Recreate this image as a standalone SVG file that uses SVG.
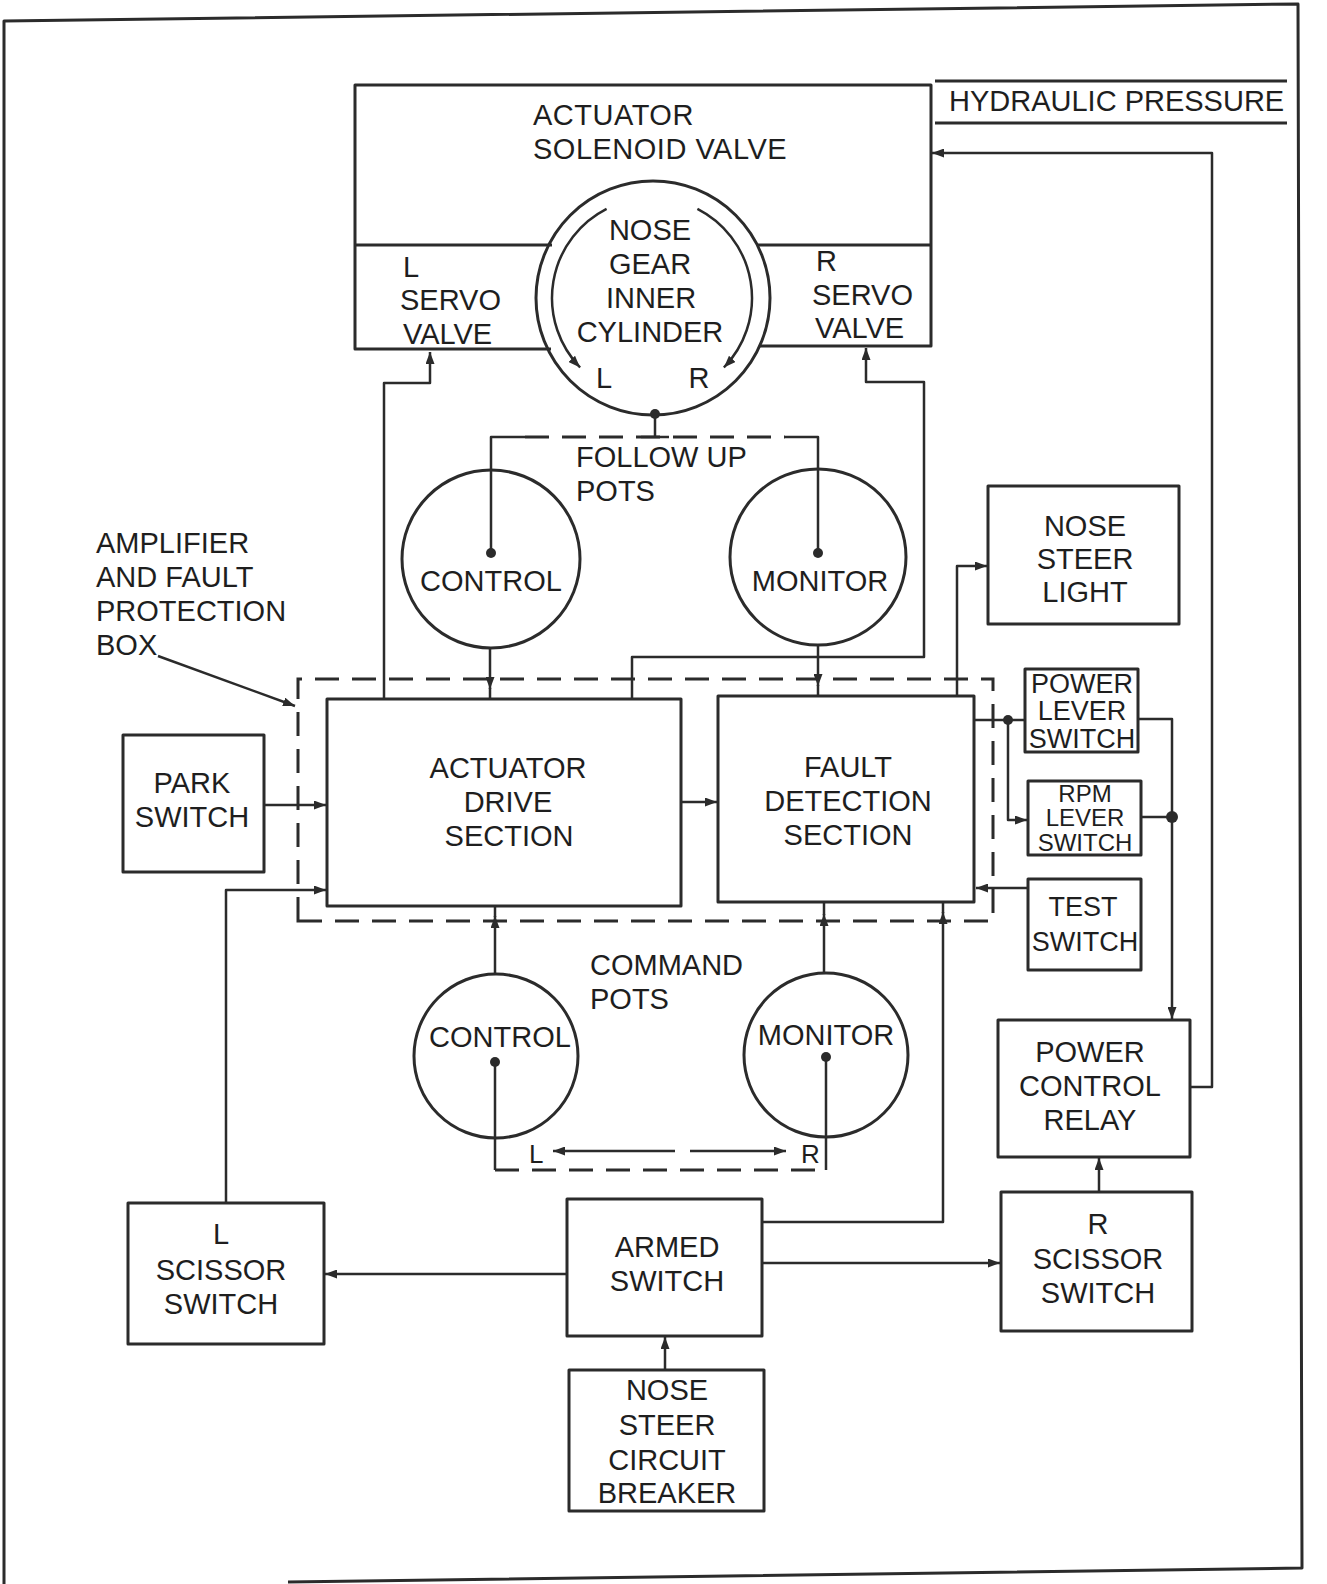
<svg xmlns="http://www.w3.org/2000/svg" width="1327" height="1584" viewBox="0 0 1327 1584">
<defs>
<style>
.box{fill:none;stroke:#2b2b2b;stroke-width:3;stroke-linejoin:round}
.w{fill:none;stroke:#2b2b2b;stroke-width:2.5;stroke-linejoin:round}
.d{fill:none;stroke:#2b2b2b;stroke-width:3;stroke-dasharray:24 13}
.a{marker-end:url(#ah)}
.t{font-family:"Liberation Sans",Arial,sans-serif;font-size:29px;fill:#1e1e1e;text-anchor:middle}
.s{text-anchor:start}
.sm{font-size:27px}
.xs{font-size:24px}
.lr{font-size:26px}
.dot{fill:#2b2b2b}
</style>
<marker id="ah" viewBox="0 0 12 9" refX="12" refY="4.5" markerWidth="12" markerHeight="9" markerUnits="userSpaceOnUse" orient="auto">
<path d="M0,0 L12,4.5 L0,9 z" fill="#2b2b2b"/>
</marker>
</defs>
<rect width="1327" height="1584" fill="#fff"/>
<path id="frame" class="box" d="M4,1584 L4,21 L1298,4 L1302,1568 L288,1582"/>

<g id="hydraulic-pressure">
<path class="box" d="M935,81 H1287 M935,123 H1287"/>
<text class="t s" x="949" y="111">HYDRAULIC PRESSURE</text>
</g>

<g id="actuator-solenoid-valve">
<path class="box" d="M355,245 V85 H931 V245 M355,245 H552 M758,245 H931"/>
<text class="t s" x="533" y="125" letter-spacing="0.5">ACTUATOR</text>
<text class="t s" x="533" y="159" letter-spacing="0.5">SOLENOID VALVE</text>
</g>

<g id="l-servo-valve">
<path class="box" d="M355,245 V349 H551"/>
<text class="t s" x="403" y="277">L</text>
<text class="t s" x="400" y="310">SERVO</text>
<text class="t s" x="403" y="344">VALVE</text>
</g>

<g id="r-servo-valve">
<path class="box" d="M931,245 V346 H759"/>
<text class="t s" x="816" y="271">R</text>
<text class="t s" x="812" y="305">SERVO</text>
<text class="t s" x="815" y="338">VALVE</text>
</g>

<g id="nose-gear-inner-cylinder">
<circle class="box" cx="653" cy="298" r="117"/>
<path class="w a" d="M606.6,208.9 A100,100 0 0,0 580.1,367.5"/>
<path class="w a" d="M697.4,208.9 A100,100 0 0,1 723.9,367.5"/>
<text class="t" x="650" y="240">NOSE</text>
<text class="t" x="650" y="274">GEAR</text>
<text class="t" x="651" y="308">INNER</text>
<text class="t" x="650" y="342">CYLINDER</text>
<text class="t" x="604" y="388">L</text>
<text class="t" x="699" y="388">R</text>
<circle class="dot" cx="655" cy="414" r="5"/>
</g>

<g id="follow-up-pots">
<text class="t s" x="576" y="467">FOLLOW UP</text>
<text class="t s" x="576" y="501">POTS</text>
</g>

<g id="follow-up-control">
<circle class="box" cx="491" cy="559" r="89"/>
<circle class="dot" cx="491" cy="553" r="5"/>
<text class="t" x="491" y="591">CONTROL</text>
</g>

<g id="follow-up-monitor">
<circle class="box" cx="818" cy="557" r="88"/>
<circle class="dot" cx="818" cy="553" r="5"/>
<text class="t" x="820" y="591">MONITOR</text>
</g>

<g id="amplifier-fault-protection-box">
<path class="d" d="M298,921 V679 H993 V921 Z"/>
<text class="t s" x="96" y="553">AMPLIFIER</text>
<text class="t s" x="96" y="587">AND FAULT</text>
<text class="t s" x="96" y="621">PROTECTION</text>
<text class="t s" x="96" y="655">BOX</text>
</g>

<g id="actuator-drive-section">
<rect class="box" x="327" y="699" width="354" height="207"/>
<text class="t" x="508" y="778">ACTUATOR</text>
<text class="t" x="508" y="812">DRIVE</text>
<text class="t" x="509" y="846">SECTION</text>
</g>

<g id="fault-detection-section">
<rect class="box" x="718" y="696" width="256" height="206"/>
<text class="t" x="848" y="777">FAULT</text>
<text class="t" x="848" y="811">DETECTION</text>
<text class="t" x="848" y="845">SECTION</text>
</g>

<g id="park-switch">
<rect class="box" x="123" y="735" width="141" height="137"/>
<text class="t" x="192" y="793">PARK</text>
<text class="t" x="192" y="827">SWITCH</text>
</g>

<g id="nose-steer-light">
<rect class="box" x="988" y="486" width="191" height="138"/>
<text class="t" x="1085" y="536">NOSE</text>
<text class="t" x="1085" y="569">STEER</text>
<text class="t" x="1085" y="602">LIGHT</text>
</g>

<g id="power-lever-switch">
<rect class="box" x="1025" y="669" width="113" height="83"/>
<text class="t sm" x="1082" y="693">POWER</text>
<text class="t sm" x="1082" y="720">LEVER</text>
<text class="t sm" x="1082" y="748">SWITCH</text>
</g>

<g id="rpm-lever-switch">
<rect class="box" x="1028" y="781" width="113" height="74"/>
<text class="t xs" x="1085" y="802">RPM</text>
<text class="t xs" x="1085" y="826">LEVER</text>
<text class="t xs" x="1085" y="851">SWITCH</text>
</g>

<g id="test-switch">
<rect class="box" x="1028" y="879" width="113" height="91"/>
<text class="t sm" x="1083" y="916">TEST</text>
<text class="t sm" x="1085" y="951">SWITCH</text>
</g>

<g id="command-pots">
<text class="t s" x="590" y="975">COMMAND</text>
<text class="t s" x="590" y="1009">POTS</text>
<text class="t s lr" x="529" y="1163">L</text>
<text class="t s lr" x="801" y="1163">R</text>
</g>

<g id="command-control">
<circle class="box" cx="496" cy="1056" r="82"/>
<circle class="dot" cx="495" cy="1062" r="5"/>
<text class="t" x="500" y="1047">CONTROL</text>
</g>

<g id="command-monitor">
<circle class="box" cx="826" cy="1055" r="82"/>
<circle class="dot" cx="826" cy="1057" r="5"/>
<text class="t" x="826" y="1045">MONITOR</text>
</g>

<g id="power-control-relay">
<rect class="box" x="998" y="1020" width="192" height="137"/>
<text class="t" x="1090" y="1062">POWER</text>
<text class="t" x="1090" y="1096">CONTROL</text>
<text class="t" x="1090" y="1130">RELAY</text>
</g>

<g id="l-scissor-switch">
<rect class="box" x="128" y="1203" width="196" height="141"/>
<text class="t" x="221" y="1244">L</text>
<text class="t" x="221" y="1280">SCISSOR</text>
<text class="t" x="221" y="1314">SWITCH</text>
</g>

<g id="armed-switch">
<rect class="box" x="567" y="1199" width="195" height="137"/>
<text class="t" x="667" y="1257">ARMED</text>
<text class="t" x="667" y="1291">SWITCH</text>
</g>

<g id="r-scissor-switch">
<rect class="box" x="1001" y="1192" width="191" height="139"/>
<text class="t" x="1098" y="1234">R</text>
<text class="t" x="1098" y="1269">SCISSOR</text>
<text class="t" x="1098" y="1303">SWITCH</text>
</g>

<g id="nose-steer-circuit-breaker">
<rect class="box" x="569" y="1370" width="195" height="141"/>
<text class="t" x="667" y="1400">NOSE</text>
<text class="t" x="667" y="1435">STEER</text>
<text class="t" x="667" y="1470">CIRCUIT</text>
<text class="t" x="667" y="1503">BREAKER</text>
</g>

<g id="connectors">
<path class="w a" d="M384,699 V383 H430 V352"/>
<path class="w a" d="M632,699 V657 H924 V382 H866 V348"/>
<path class="w" d="M491,553 V437 H525 M818,553 V437 H785 M641,437 H669 M655,414 V437"/>
<path class="d" d="M525,437 H785"/>
<path class="w a" d="M490,648 V689"/>
<path class="w" d="M490,688 V699"/>
<path class="w a" d="M818,645 V686"/>
<path class="w" d="M818,685 V696"/>
<path class="w a" d="M264,805 H326"/>
<path class="w a" d="M226,1203 V890 H326"/>
<path class="w a" d="M681,802 H717"/>
<path class="w a" d="M957,696 V566 H987"/>
<path class="w" d="M974,720 H1025"/>
<circle class="dot" cx="1008" cy="720" r="5"/>
<path class="w a" d="M1008,720 V820 H1027"/>
<path class="w a" d="M1138,719 H1172 V1019"/>
<path class="w" d="M1141,817 H1172"/>
<circle class="dot" cx="1172" cy="817" r="6"/>
<path class="w a" d="M1028,888 H976"/>
<path class="w a" d="M762,1222 H943 V912"/>
<path class="w" d="M943,913 V902"/>
<path class="w a" d="M495,974 V916"/>
<path class="w" d="M495,917 V906"/>
<path class="w a" d="M824,973 V914"/>
<path class="w" d="M824,915 V902"/>
<path class="w" d="M495,1062 V1170 M826,1057 V1170"/>
<path class="d" d="M495,1170 H826"/>
<path class="w a" d="M675,1151 H553"/>
<path class="w a" d="M690,1151 H786"/>
<path class="w a" d="M1190,1087 H1212 V153 H932"/>
<path class="w a" d="M1099,1192 V1158"/>
<path class="w a" d="M567,1274 H325"/>
<path class="w a" d="M762,1263 H1000"/>
<path class="w a" d="M665,1370 V1337"/>
<path class="w a" d="M158,656 L295,706"/>
</g>
</svg>
